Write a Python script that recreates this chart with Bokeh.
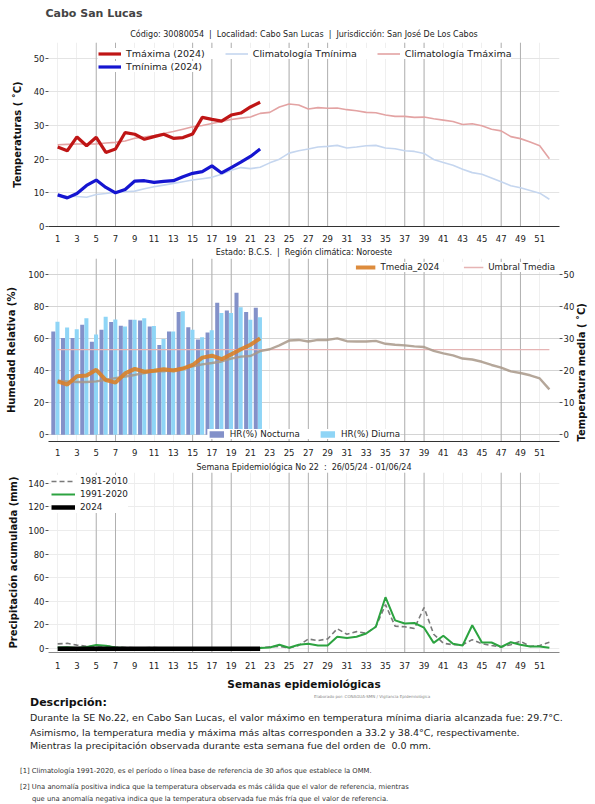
import numpy as np
from bokeh.plotting import figure
from bokeh.models import (Range1d, LinearAxis, FixedTicker, Span, Legend, LegendItem,
                          ColumnDataSource, Title, Div)
from bokeh.transform import dodge
from bokeh.layouts import column
from bokeh.embed import file_html
from bokeh.resources import INLINE
from bokeh.core.properties import value

FONT = "DejaVu Sans"
W = 595
X0, X1 = 0.05, 53.05
NB = "\u00a0"

# ---------------- data ----------------
weeks_all = list(range(1, 53))
weeks_2024 = list(range(1, 23))
tick_weeks = list(range(1, 52, 2))
marker_weeks = [5, 7, 15, 17, 19, 25, 27, 29, 37, 39, 47, 49]

tmax_2024 = [23.6, 22.5, 26.6, 24.0, 26.5, 22.0, 23.0, 27.9, 27.4, 25.9, 26.7, 27.4,
             26.2, 26.4, 27.5, 32.4, 31.8, 31.3, 33.1, 33.7, 35.5, 36.9]
tmin_2024 = [9.4, 8.5, 9.8, 12.2, 13.8, 11.6, 10.0, 11.0, 13.5, 13.6, 13.1, 13.4,
             13.6, 14.8, 15.8, 16.3, 18.0, 15.9, 17.5, 19.1, 20.8, 23.0]
clim_tmax = [24.3, 24.4, 24.5, 24.5, 24.5, 24.8, 25.0, 25.4, 26.2, 26.6, 27.0, 27.6,
             28.2, 28.9, 29.6, 30.0, 30.6, 31.2, 31.8, 32.2, 32.5, 33.6, 33.9, 35.5,
             36.4, 36.1, 34.9, 35.3, 35.1, 35.2, 34.7, 34.4, 33.9, 33.8, 33.1, 32.7,
             32.7, 32.4, 32.5, 32.0, 31.6, 31.2, 30.3, 30.5, 29.9, 28.9, 28.4, 26.7,
             26.1, 25.1, 24.0, 20.1]
clim_tmin = [9.2, 9.0, 8.9, 8.7, 9.5, 9.8, 10.2, 10.3, 10.5, 11.2, 11.8, 12.3,
             12.8, 13.3, 13.8, 14.2, 14.6, 15.5, 16.7, 17.5, 17.2, 17.6, 18.9, 20.0,
             21.8, 22.5, 23.0, 23.6, 23.8, 24.1, 23.3, 23.6, 24.0, 24.1, 23.3, 23.1,
             22.5, 22.3, 21.7, 19.9, 19.0, 18.2, 17.0, 16.0, 15.5, 14.4, 13.3, 12.1,
             11.5, 10.7, 9.9, 8.1]

hr_nocturna = [64.2, 60.2, 60.2, 68.5, 57.8, 65.3, 70.1, 67.9, 71.5, 71.1, 67.3, 55.8,
               64.2, 76.4, 66.9, 59.2, 63.6, 82.2, 77.4, 88.3, 76.4, 79.0]
hr_diurna = [70.3, 66.7, 65.7, 72.5, 62.4, 73.5, 71.7, 67.3, 71.5, 72.5, 67.7, 59.6,
             64.2, 76.8, 65.3, 60.6, 65.0, 75.8, 75.8, 79.4, 71.5, 73.1]
tmedia_2024 = [16.6, 15.6, 18.2, 18.4, 20.2, 17.0, 16.2, 19.1, 20.5, 19.6, 19.9, 20.4,
               20.0, 20.6, 21.7, 24.0, 24.6, 23.5, 25.0, 26.6, 28.0, 30.0]
clim_tmedia = [16.8, 16.6, 16.4, 16.4, 16.6, 17.1, 17.6, 18.1, 18.6, 19.2, 19.8, 19.7,
               20.2, 20.7, 21.3, 21.9, 22.3, 22.8, 23.7, 24.3, 24.5, 26.0, 26.6, 27.8,
               29.3, 29.5, 29.0, 29.5, 29.5, 30.0, 29.1, 29.0, 29.0, 29.2, 28.3, 28.0,
               27.8, 27.5, 27.3, 26.1, 25.3, 24.7, 23.7, 23.4, 22.7, 21.7, 20.9, 19.7,
               19.2, 18.5, 17.5, 14.1]
umbral_tmedia = 26.5

precip_1981_2010 = [4.0, 4.5, 3.0, 2.0, 2.0, 2.5, 1.2, 1.0, 0.8, 0.8, 1.0, 0.5,
                    0.5, 0.4, 0.4, 0.3, 0.3, 0.3, 0.3, 0.4, 0.5, 0.8, 1.5, 2.0,
                    0.5, 2.7, 8.2, 6.8, 8.2, 16.8, 12.2, 14.4, 13.0, 18.5, 37.2, 19.0,
                    18.5, 17.1, 34.8, 12.2, 4.6, 3.3, 3.3, 7.6, 4.1, 2.7, 1.4, 3.3,
                    6.3, 1.9, 2.7, 5.4]
precip_1991_2020 = [1.0, 1.2, 0.6, 1.5, 3.0, 2.5, 1.0, 0.5, 0.3, 0.3, 0.5, 0.3,
                    0.3, 0.2, 0.2, 0.2, 0.2, 0.2, 0.3, 0.3, 0.3, 0.5, 1.0, 3.3,
                    0.8, 3.3, 4.1, 2.7, 2.7, 10.0, 9.0, 10.0, 12.8, 18.5, 43.5, 23.9,
                    21.2, 21.7, 17.7, 4.9, 10.9, 4.1, 2.7, 19.8, 5.2, 5.2, 1.4, 5.4,
                    3.3, 1.9, 1.9, 0.8]
precip_2024 = [0.0, 0.0, 0.0, 0.0, 0.0, 0.0, 0.0, 0.0, 0.0, 0.0, 0.0,
               0.0, 0.0, 0.0, 0.0, 0.0, 0.0, 0.0, 0.0, 0.0, 0.0, 0.0]

temp_ticks = [0, 10, 20, 30, 40, 50]
hr_ticks = [0, 20, 40, 60, 80, 100]
precip_ticks = [0, 20, 40, 60, 80, 100, 120, 140]


# ---------------- helpers ----------------
def base_fig(height, y_range, top, bottom, yticks, gridcolor, label_standoff):
    p = figure(width=W, height=height, x_range=Range1d(X0, X1), y_range=y_range,
               output_backend="svg", toolbar_location=None,
               min_border_left=48, min_border_right=32,
               min_border_top=top, min_border_bottom=bottom)
    p.outline_line_color = None
    p.xaxis.ticker = FixedTicker(ticks=tick_weeks)
    p.xgrid.ticker = FixedTicker(ticks=tick_weeks)
    p.yaxis.ticker = FixedTicker(ticks=yticks)
    p.ygrid.ticker = FixedTicker(ticks=yticks)
    p.xgrid.grid_line_color = "#efefef"
    p.ygrid.grid_line_color = gridcolor
    for ax in p.axis:
        ax.major_label_text_font = FONT
        ax.major_label_text_font_size = "8.5px"
        ax.major_label_text_color = "#222222"
        ax.minor_tick_line_color = None
        ax.axis_label_text_font = FONT
        ax.axis_label_text_font_size = "10px"
        ax.axis_label_text_font_style = "bold"
        ax.axis_label_text_color = "#111111"
    p.xaxis.major_tick_line_color = None
    p.xaxis.major_label_standoff = label_standoff
    p.xaxis.axis_line_color = "#333333"
    p.yaxis.axis_line_color = None
    p.yaxis.major_tick_out = 3
    p.yaxis.major_tick_in = 0
    p.yaxis.major_tick_line_color = "#555555"
    p.yaxis.major_label_standoff = 1
    for w in marker_weeks:
        p.add_layout(Span(location=w, dimension="height", line_color="#b0b0b0",
                          line_width=1, level="underlay"))
    return p


def header(p, text, standoff):
    p.title.text = text
    p.title.align = "center"
    p.title.text_font = FONT
    p.title.text_font_size = "8px"
    p.title.text_font_style = "normal"
    p.title.text_color = "#222222"
    p.title.standoff = standoff


def legend_style(leg, size, gw, gh, lh, pad, spacing):
    leg.label_text_font = FONT
    leg.label_text_font_size = size
    leg.label_text_color = "#222222"
    leg.glyph_width = gw
    leg.glyph_height = gh
    leg.label_height = lh
    leg.padding = pad
    leg.spacing = spacing
    leg.label_standoff = 5
    leg.border_line_color = None
    leg.background_fill_color = "white"
    leg.background_fill_alpha = 1.0


SEP = NB * 2 + "|" + NB * 2

# ---------------- panel 1: temperatures ----------------
p1 = base_fig(244, Range1d(0, 54.65), 42, 14, temp_ticks, "#e4e4e4", 2)
p1.title.text = "Cabo San Lucas"
p1.title.align = "left"
p1.title.offset = -3
p1.title.text_font = FONT
p1.title.text_font_size = "11px"
p1.title.text_font_style = "bold"
p1.title.standoff = 9
p1.add_layout(Title(text="Código: 30080054" + SEP + "Localidad: Cabo San Lucas" + SEP
                         + "Jurisdicción: San José De Los Cabos",
                    align="center", text_font=FONT, text_font_size="8px",
                    text_font_style="normal", text_color="#222222", standoff=7), "above")
p1.yaxis.axis_label = "Temperaturas ( ˚C)"
p1.yaxis.axis_label_standoff = 8

r_ctmin = p1.line(weeks_all, clim_tmin, line_color="#c5d6ef", line_width=1.6)
r_ctmax = p1.line(weeks_all, clim_tmax, line_color="#e3a3a3", line_width=1.6)
r_tmax = p1.line(weeks_2024, tmax_2024, line_color="#bf1515", line_width=3.2)
r_tmin = p1.line(weeks_2024, tmin_2024, line_color="#1515d0", line_width=3.2)

leg1b = Legend(items=[LegendItem(label="Tmínima (2024)", renderers=[r_tmin])],
               orientation="horizontal", location=(50, 154))
legend_style(leg1b, "9.5px", 23, 11, 11, 2, 20)
leg1a = Legend(items=[LegendItem(label="Tmáxima (2024)", renderers=[r_tmax]),
                      LegendItem(label="Climatología Tmínima", renderers=[r_ctmin]),
                      LegendItem(label="Climatología Tmáxima", renderers=[r_ctmax])],
               orientation="horizontal", location=(50, 167))
legend_style(leg1a, "9.5px", 23, 11, 11, 2, 20)
p1.add_layout(leg1b, "center")
p1.add_layout(leg1a, "center")

# ---------------- panel 2: humidity + mean temperature ----------------
p2 = base_fig(214, Range1d(-4.24, 109.7), 13, 13, hr_ticks, "#d4d4d4", 1)
header(p2, "Estado: B.C.S." + SEP + "Región climática: Noroeste", 3)
p2.yaxis.axis_label = "Humedad Relativa (%)"
p2.yaxis.axis_label_standoff = 8
p2.extra_y_ranges = {"right": Range1d(-2.12, 54.85)}
ax_r = LinearAxis(y_range_name="right", ticker=FixedTicker(ticks=temp_ticks))
ax_r.major_label_text_font = FONT
ax_r.major_label_text_font_size = "8.5px"
ax_r.major_label_text_color = "#222222"
ax_r.axis_line_color = None
ax_r.minor_tick_line_color = None
ax_r.major_tick_out = 3
ax_r.major_tick_in = 0
ax_r.major_tick_line_color = "#555555"
ax_r.major_label_standoff = 1
ax_r.axis_label = "Temperatura media ( ˚C)"
ax_r.axis_label_text_font = FONT
ax_r.axis_label_text_font_size = "10px"
ax_r.axis_label_text_font_style = "bold"
ax_r.axis_label_text_color = "#111111"
ax_r.axis_label_standoff = 4
ax_r.axis_label_orientation = np.pi / 2
ax_r.axis_label_align = "start"
p2.add_layout(ax_r, "right")

src_hr = ColumnDataSource(dict(week=weeks_2024, noct=hr_nocturna, diur=hr_diurna))
r_noct = p2.vbar(x=dodge("week", -0.45), top="noct", bottom=0, width=0.42,
                 source=src_hr, fill_color="#8391c9", line_color=None)
r_diur = p2.vbar(x=dodge("week", -0.02), top="diur", bottom=0, width=0.42,
                 source=src_hr, fill_color="#8fd5f6", line_color=None)
r_umb = p2.line(weeks_all, [umbral_tmedia] * len(weeks_all), y_range_name="right",
                line_color="#e6b4b4", line_width=1.3)
r_ctmed = p2.line(weeks_all, clim_tmedia, y_range_name="right",
                  line_color="#a89888", line_width=2.4, line_alpha=0.85)
r_tmed = p2.line(weeks_2024, tmedia_2024, y_range_name="right",
                 line_color="#d98028", line_width=4, line_alpha=0.9)

leg2a = Legend(items=[LegendItem(label="Tmedia_2024", renderers=[r_tmed]),
                      LegendItem(label="Umbral Tmedia", renderers=[r_umb])],
               orientation="horizontal", location="top_right", margin=4)
legend_style(leg2a, "8.7px", 20, 10, 10, 3, 24)
leg2b = Legend(items=[LegendItem(label="HR(%) Nocturna", renderers=[r_noct]),
                      LegendItem(label="HR(%) Diurna", renderers=[r_diur])],
               orientation="horizontal", location="bottom_center", margin=2)
legend_style(leg2b, "8.7px", 18, 8, 10, 4, 18)
p2.add_layout(leg2a, "center")
p2.add_layout(leg2b, "center")

# ---------------- panel 3: precipitation ----------------
p3 = base_fig(234, Range1d(-3.26, 148.95), 14, 33, precip_ticks, "#ececec", 3)
header(p3, "Semana Epidemiológica No 22" + NB * 2 + ":" + NB * 2 + "26/05/24 - 01/06/24", 2)
p3.xaxis.axis_line_color = "#888888"
p3.yaxis.axis_label = "Precipitación acumulada (mm)"
p3.yaxis.axis_label_standoff = 6
p3.xaxis.axis_label = "Semanas epidemiológicas"
p3.xaxis.axis_label_text_font_size = "10.5px"
p3.xaxis.axis_label_standoff = 6

r_p81 = p3.line(weeks_all, precip_1981_2010, line_color="#7a7a7a", line_width=1.6,
                line_dash="5 3")
r_p91 = p3.line(weeks_all, precip_1991_2020, line_color="#2ca340", line_width=2)
r_p24 = p3.line(weeks_2024, precip_2024, line_color="#000000", line_width=4.5)

leg3 = Legend(items=[LegendItem(label="1981-2010", renderers=[r_p81]),
                     LegendItem(label="1991-2020", renderers=[r_p91]),
                     LegendItem(label="2024", renderers=[r_p24])],
              orientation="vertical", location="top_left", margin=3)
legend_style(leg3, "8.8px", 24, 12, 12, 3, 1)
p3.add_layout(leg3, "center")

# ---------------- description block ----------------
def line_html(left, top, size, text, bold=False, color="#222222", lh=None):
    weight = "bold" if bold else "normal"
    lh = lh if lh is not None else size * 1.25
    return (f'<div style="position:absolute;left:{left}px;top:{top}px;'
            f'font-family:\'DejaVu Sans\';font-size:{size}px;font-weight:{weight};'
            f'line-height:{lh}px;white-space:nowrap;color:{color};">{text}</div>')

desc_html = ('<div style="position:relative;width:595px;height:112px;background:white;">'
             + line_html(314, 2, 4, "Elaborado por: CONAGUA-SMN / Vigilancia Epidemiológica",
                         color="#888888")
             + line_html(30, 4, 11, "Descripción:", bold=True, color="#111111", lh=14)
             + line_html(30, 20, 9.5, "Durante la SE No.22, en Cabo San Lucas, el valor máximo "
                         "en temperatura mínima diaria alcanzada fue: 29.7°C.", lh=12)
             + line_html(30, 35, 9.5, "Asimismo, la temperatura media y máxima más altas "
                         "corresponden a 33.2 y 38.4°C, respectivamente.", lh=12)
             + line_html(30, 48, 9.5, "Mientras la precipitación observada durante esta "
                         "semana fue del orden de &nbsp;0.0 mm.", lh=12)
             + line_html(20, 74.5, 6.8, "[1] Climatología 1991-2020, es el período o línea base "
                         "de referencia de 30 años que establece la OMM.", color="#333333",
                         lh=9)
             + line_html(20, 90.5, 6.8, "[2] Una anomalía positiva indica que la temperatura "
                         "observada es más cálida que el valor de referencia, mientras",
                         color="#333333", lh=9)
             + line_html(32, 103, 6.8, "que una anomalía negativa indica que la temperatura "
                         "observada fue más fría que el valor de referencia.",
                         color="#333333", lh=9)
             + '</div>')
desc = Div(text=desc_html, width=W, height=112, margin=0)

layout = column(p1, p2, p3, desc, spacing=0)
open("out.html", "w").write(file_html(layout, INLINE))
